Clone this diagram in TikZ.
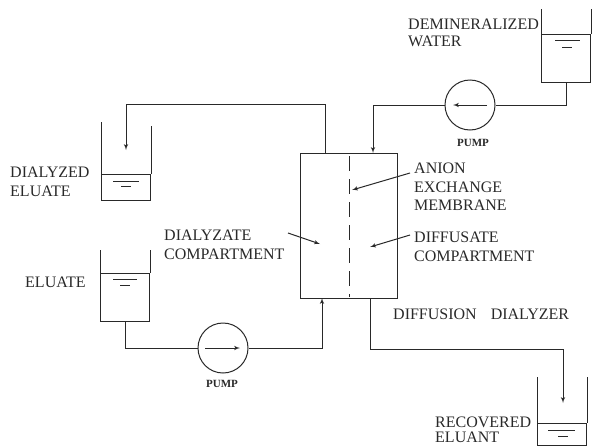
\documentclass[tikz,border=0pt]{standalone}
\usepackage{fontspec}
\setmainfont{Liberation Serif}
\usepackage{xcolor}
\usetikzlibrary{arrows}
\usetikzlibrary{arrows.meta}
\tikzset{>=stealth}
\definecolor{ink}{gray}{0.16}
\tikzstyle{line} = [draw, ink, line width=1pt, -latex']
\tikzstyle{pipe} = [draw, ink, line width=1pt]

\begin{document}
\begin{tikzpicture}[
	x=1pt, y=-1pt, auto,
	every node/.style={text=ink, font=\fontsize{16}{18}\selectfont},
	label/.style={align=left, anchor=west, inner sep=0pt},
	tag/.style={font=\bfseries\fontsize{11}{13}\selectfont, inner sep=0pt},
	pump/.style={draw=ink, line width=1pt, circle, minimum size=50pt, inner sep=0pt},
	box/.style={draw=ink, line width=1pt, rectangle, inner sep=0pt},
	liquid/.style={box, minimum width=49pt}]
	\useasboundingbox (0,0) rectangle (593,447);
	%% Tanks
	\node [liquid, minimum height=26pt] at (126,187) (DE) {};
	\node [liquid, minimum height=48pt] at (125,297) (E) {};
	\node [liquid, minimum height=48pt] at (566,58) (W) {};
	\node [liquid, minimum height=22pt] at (562,434) (RE) {};
	\draw [pipe] (DE.north west) -- ++(0,-52);
	\draw [pipe] (DE.north east) -- ++(0,-48);
	\draw [pipe] (E.north west) -- ++(0,-23);
	\draw [pipe] (E.north east) -- ++(0,-23);
	\draw [pipe] (W.north west) -- ++(0,-25);
	\draw [pipe] (W.north east) -- ++(0,-25);
	\draw [pipe] (RE.north west) -- ++(0,-46);
	\draw [pipe] (RE.north east) -- ++(0,-46);
	%% Surface marks
	\draw [pipe] (113,181) -- (139,181) (121,186) -- (131,186);
	\draw [pipe] (113,279) -- (137,279) (120,285) -- (130,285);
	\draw [pipe] (555,40) -- (580,40) (562,47) -- (572,47);
	\draw [pipe] (548,430) -- (575,430) (558,436) -- (568,436);
	%% Pumps and dialyzer
	\node [pump] at (223,348) (P1) {};
	\node [pump] at (470,105) (P2) {};
	\node [box, minimum width=97pt, minimum height=145pt] at (348.5,225.5) (D) {};
	\coordinate (Dout) at (325,153);
	\coordinate (Din) at (373,153);
	\coordinate (Ein) at (322,298);
	\coordinate (Rout) at (370,298);
	\coordinate (DEtop) at (126,150);
	\coordinate (REtop) at (563,403);
	\draw [pipe, dash pattern=on 15pt off 8pt] (349,156) -- (349,297);
	%% Labels
	\node [label] at (408,24) (T1) {DEMINERALIZED};
	\node [label] at (408,41) (T2) {WATER};
	\node [label] at (10,172) (T3) {DIALYZED};
	\node [label] at (10,191) (T4) {ELUATE};
	\node [label] at (25,282) (T5) {ELUATE};
	\node [label] at (164,235) (T6) {DIALYZATE};
	\node [label] at (164,254) (T7) {COMPARTMENT};
	\node [label] at (414,168) (T8) {ANION};
	\node [label] at (414,187) (T9) {EXCHANGE};
	\node [label] at (414,205) (T10) {MEMBRANE};
	\node [label] at (414,237) (T11) {DIFFUSATE};
	\node [label] at (414,256) (T12) {COMPARTMENT};
	\node [label] at (393,314) (T13) {DIFFUSION\hspace{14pt}DIALYZER};
	\node [label] at (435,422) (T14) {RECOVERED};
	\node [label] at (435,437) (T15) {ELUANT};
	\node [tag] at (473,143) (T16) {PUMP};
	\node [tag] at (222,384) (T17) {PUMP};
	%% Flows
	\draw [pipe] (W.south) |- (P2.east);
	\path [line] (P2.west) -| (Din);
	\path [line] (Dout) |- (126,104) -- (DEtop);
	\draw [pipe] (E.south) |- (P1.west);
	\path [line] (P1.east) -| (Ein);
	\path [line] (Rout) |- (563,349) -- (REtop);
	%% Arrows inside the pumps
	\coordinate (A1) at (205,348);
	\coordinate (A2) at (240,348);
	\coordinate (A3) at (487,105);
	\coordinate (A4) at (453,105);
	\path [line] (A1) -- (A2);
	\path [line] (A3) -- (A4);
	%% Pointers
	\coordinate (M) at (352,190);
	\coordinate (C1) at (370,247);
	\coordinate (C2) at (320,244);
	\coordinate (C0) at (288,233);
	\path [line] (T8.west) ++(-4,5) -- (M);
	\path [line] (T11.west) ++(-4,-2) -- (C1);
	\path [line] (C0) -- (C2);
\end{tikzpicture}
\end{document}
